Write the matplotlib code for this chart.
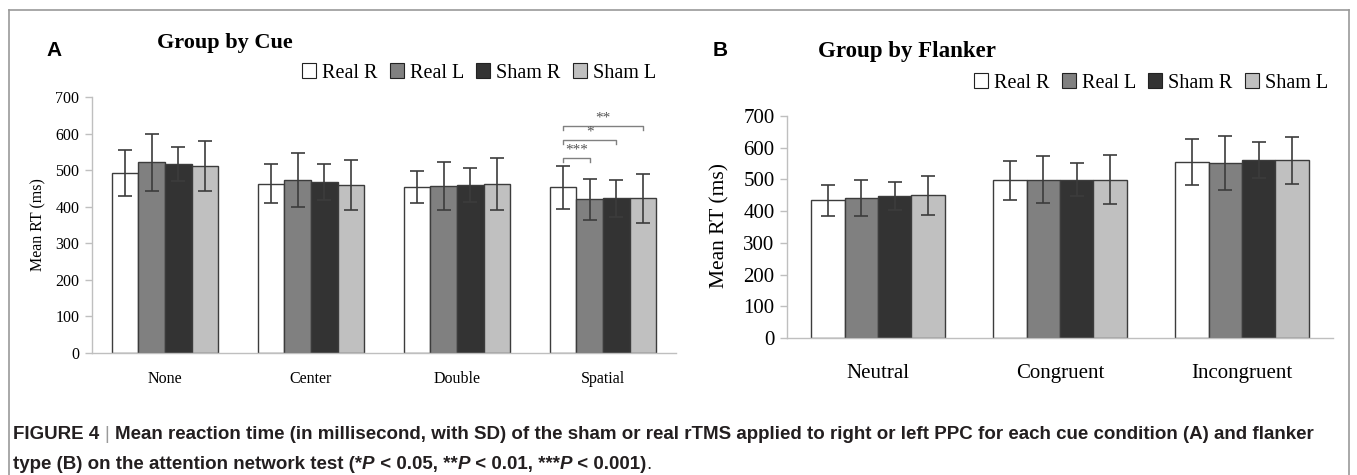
import numpy as np
import matplotlib.pyplot as plt
from matplotlib.patches import Patch
from matplotlib.lines import Line2D

plt.rcParams['font.family'] = 'Liberation Serif'

W, H = 1357, 475

# ---- data ----
groups = ['Real R', 'Real L', 'Sham R', 'Sham L']
colors = ['#ffffff', '#808080', '#333333', '#c0c0c0']

cue_labels = ['None', 'Center', 'Double', 'Spatial']
cue_real_r = [491, 463, 454, 453]
cue_real_l = [521, 474, 457, 420]
cue_sham_r = [517, 467, 459, 423]
cue_sham_l = [512, 460, 462, 423]
cue_sd_real_r = [63, 54, 45, 59]
cue_sd_real_l = [78, 74, 65, 55]
cue_sd_sham_r = [46, 49, 46, 50]
cue_sd_sham_l = [68, 68, 70, 67]

flk_labels = ['Neutral', 'Congruent', 'Incongruent']
flk_real_r = [434, 497, 555]
flk_real_l = [442, 499, 552]
flk_sham_r = [447, 499, 560]
flk_sham_l = [450, 499, 560]
flk_sd_real_r = [48, 62, 74]
flk_sd_real_l = [56, 74, 86]
flk_sd_sham_r = [44, 52, 57]
flk_sd_sham_l = [62, 77, 73]

# Spatial cue comparisons (bar a, bar b, bracket level in ms, label)
sig_pairs = [(0, 1, 534, '***'), (0, 2, 582, '*'), (0, 3, 621, '**')]


def px(x, y):
    # pixel coords (from top-left) -> figure fraction
    return x / W, 1 - y / H


def draw_panel(ax, labels, means, sds, tick_fs, xl_fs, xpad):
    x = np.arange(len(labels))
    w = 0.183
    for i in range(4):
        ax.bar(x + (i - 1.5) * w, means[i], w, yerr=sds[i], color=colors[i],
               edgecolor='#3c3c3c', linewidth=1.0,
               error_kw=dict(ecolor='#3c3c3c', elinewidth=1.2, capsize=5, capthick=1.2))
    ax.set_xlim(-0.5, len(labels) - 0.5)
    ax.set_ylim(0, 700)
    ax.set_yticks(range(0, 701, 100))
    ax.set_xticks(x)
    ax.set_xticklabels(labels, fontsize=xl_fs)
    ax.tick_params(axis='x', length=0, pad=xpad)
    ax.tick_params(axis='y', labelsize=tick_fs, length=5, width=1, color='#bfbfbf', pad=4)
    for s in ['top', 'right']:
        ax.spines[s].set_visible(False)
    for s in ['left', 'bottom']:
        ax.spines[s].set_color('#bfbfbf')
        ax.spines[s].set_linewidth(1.0)
    return x, w


fig = plt.figure(figsize=(W / 100, H / 100), dpi=100)

# ---- panel A ----
axA = fig.add_axes([92 / W, (H - 353) / H, 584 / W, 256 / H])
xa, wa = draw_panel(axA, cue_labels,
                    [cue_real_r, cue_real_l, cue_sham_r, cue_sham_l],
                    [cue_sd_real_r, cue_sd_real_l, cue_sd_sham_r, cue_sd_sham_l],
                    11.5, 11.5, 13)
for a, b, lev, lab in sig_pairs:
    x0 = xa[3] + (a - 1.5) * wa
    x1 = xa[3] + (b - 1.5) * wa
    axA.plot([x0, x0, x1, x1], [lev - 11, lev, lev, lev - 11], color='#808080', lw=1.0)
    axA.text((x0 + x1) / 2, lev + 4, lab, ha='center', va='bottom', fontsize=11, color='#555555')

# ---- panel B ----
axB = fig.add_axes([787 / W, (H - 338) / H, 546 / W, 222 / H])
draw_panel(axB, flk_labels,
           [flk_real_r, flk_real_l, flk_sham_r, flk_sham_l],
           [flk_sd_real_r, flk_sd_real_l, flk_sd_sham_r, flk_sd_sham_l],
           15, 15, 19)

# y labels
fig.text(*px(38, 225), 'Mean RT (ms)', rotation=90, ha='center', va='center', fontsize=11.5)
fig.text(*px(720, 226), 'Mean RT (ms)', rotation=90, ha='center', va='center', fontsize=15.5)

# panel letters and titles
fig.text(*px(54, 50), 'A', family='Liberation Sans', weight='bold', fontsize=15, ha='center', va='center')
fig.text(*px(720, 50), 'B', family='Liberation Sans', weight='bold', fontsize=15, ha='center', va='center')
fig.text(*px(157, 43), 'Group by Cue', weight='bold', fontsize=16, ha='left', va='center')
fig.text(*px(818, 51), 'Group by Flanker', weight='bold', fontsize=16.5, ha='left', va='center')

# legends
handles = [Patch(facecolor=c, edgecolor='#222222', linewidth=0.8) for c in colors]
fig.legend(handles, groups, ncol=4, loc='center right', bbox_to_anchor=px(656, 73),
           frameon=False, fontsize=14.5, handlelength=0.7, handleheight=0.7,
           handletextpad=0.3, columnspacing=0.6, borderaxespad=0, borderpad=0)
fig.legend(handles, groups, ncol=4, loc='center right', bbox_to_anchor=px(1328, 83),
           frameon=False, fontsize=14.5, handlelength=0.7, handleheight=0.7,
           handletextpad=0.3, columnspacing=0.6, borderaxespad=0, borderpad=0)

# frame around the figure panels (open at the bottom)
fc = '#9a9a9a'
fig.add_artist(Line2D([9 / W, 1349 / W], [1 - 10 / H, 1 - 10 / H], color=fc, lw=1.2))
fig.add_artist(Line2D([9 / W, 9 / W], [0, 1 - 10 / H], color=fc, lw=1.2))
fig.add_artist(Line2D([1349 / W, 1349 / W], [0, 1 - 10 / H], color=fc, lw=1.2))

# caption with mixed styles
renderer = fig.canvas.get_renderer()


def rich_line(x, y, parts, size):
    for txt, style, weight, col in parts:
        t = fig.text(x, y, txt, fontsize=size, family='Liberation Sans', weight=weight,
                     style=style, color=col, va='baseline', ha='left')
        bb = t.get_window_extent(renderer)
        x += bb.width / W


cap_fs = 13.5
cc = '#231f20'
rich_line(13 / W, 1 - 439 / H, [
    ('FIGURE 4 ', 'normal', 'bold', cc),
    ('| ', 'normal', 'normal', '#9a9a9a'),
    ('Mean reaction time (in millisecond, with SD) of the sham or real rTMS applied to right '
     'or left PPC for each cue condition (A) and flanker', 'normal', 'bold', cc),
], cap_fs)
rich_line(13 / W, 1 - 469 / H, [
    ('type (B) on the attention network test (*', 'normal', 'bold', cc),
    ('P', 'italic', 'bold', cc),
    (' < 0.05, **', 'normal', 'bold', cc),
    ('P', 'italic', 'bold', cc),
    (' < 0.01, ***', 'normal', 'bold', cc),
    ('P', 'italic', 'bold', cc),
    (' < 0.001)', 'normal', 'bold', cc),
    ('.', 'normal', 'normal', cc),
], cap_fs)

fig.savefig('out.png', dpi=100)
